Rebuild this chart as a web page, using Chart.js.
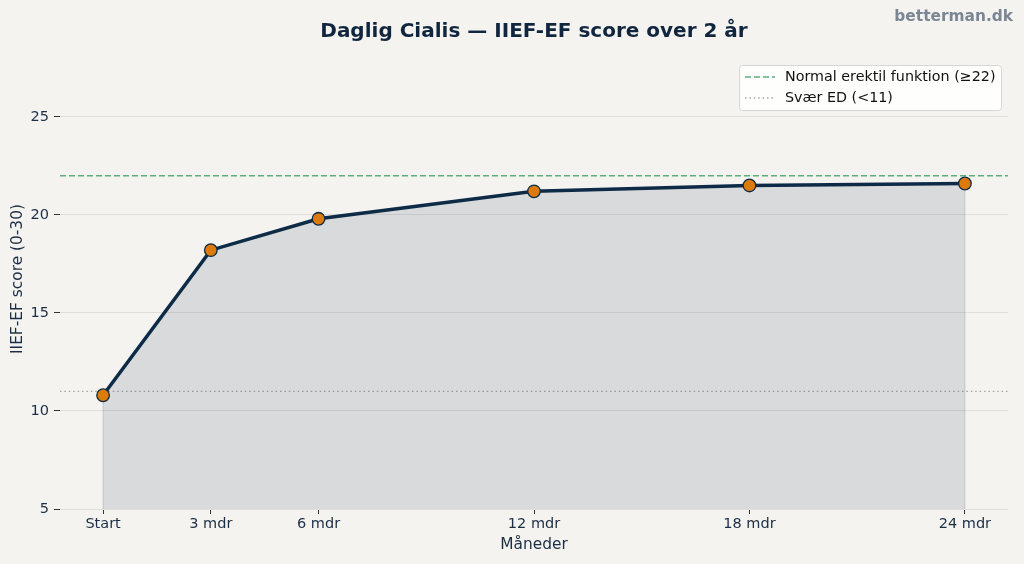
<!DOCTYPE html>
<html>
<head>
<meta charset="utf-8">
<script src="https://cdn.jsdelivr.net/npm/chart.js@4"></script>
<style>
  html, body { margin: 0; padding: 0; background: #f4f3f0; }
  canvas { display: block; }
</style>
</head>
<body>
<canvas id="iiefChart" width="1024" height="564"></canvas>
<script>
// months after start, and matching tick labels
const months = [0, 3, 6, 12, 18, 24];
const tickLabels = ['Start', '3 mdr', '6 mdr', '12 mdr', '18 mdr', '24 mdr'];
const iiefScores = [10.8, 18.2, 19.8, 21.2, 21.5, 21.6];
const yTicks = [5, 10, 15, 20, 25];
const normalLevel = 22;
const severeLevel = 11;

const navy = '#0d2a47';
const textColor = '#1c2e45';
const green = '#5cae7e';
const grey = '#a5a5a5';
const font = "'DejaVu Sans', sans-serif";

const xMin = -1.2, xMax = 25.2;

// background, title, watermark, axis titles, fill edges and legend
const decorations = {
    id: 'decorations',
    beforeDraw(chart) {
        const ctx = chart.ctx;
        ctx.save();
        ctx.fillStyle = '#f4f3f0';
        ctx.fillRect(0, 0, chart.width, chart.height);
        ctx.restore();
    },
    beforeDatasetsDraw(chart) {
        // faint edges of the filled area, like matplotlib's fill_between
        const ctx = chart.ctx;
        const xs = chart.scales.x, ys = chart.scales.y;
        ctx.save();
        ctx.strokeStyle = 'rgba(13, 42, 71, 0.10)';
        ctx.lineWidth = 1.5;
        [0, months.length - 1].forEach(i => {
            const px = xs.getPixelForValue(months[i]);
            ctx.beginPath();
            ctx.moveTo(px, ys.getPixelForValue(iiefScores[i]));
            ctx.lineTo(px, ys.getPixelForValue(ys.min));
            ctx.stroke();
        });
        ctx.restore();
    },
    afterDraw(chart) {
        const ctx = chart.ctx;
        const area = chart.chartArea;
        ctx.save();
        ctx.textBaseline = 'middle';

        ctx.fillStyle = '#10263f';
        ctx.font = 'bold 20px ' + font;
        ctx.textAlign = 'center';
        ctx.fillText('Daglig Cialis — IIEF-EF score over 2 år', 534, 32);

        ctx.fillStyle = '#7b8694';
        ctx.font = 'bold 15.4px ' + font;
        ctx.textAlign = 'right';
        ctx.fillText('betterman.dk', 1013, 17);

        ctx.fillStyle = textColor;
        ctx.font = '15.4px ' + font;
        ctx.textAlign = 'center';
        ctx.fillText('Måneder', (area.left + area.right) / 2, 545);

        ctx.translate(18, 279);
        ctx.rotate(-Math.PI / 2);
        ctx.fillText('IIEF-EF score (0-30)', 0, 0);
        ctx.setTransform(1, 0, 0, 1, 0, 0);

        // legend box
        const lx = 739, ly = 65, lw = 262, lh = 45;
        ctx.fillStyle = 'rgba(255,255,255,0.85)';
        ctx.strokeStyle = '#d6d6d6';
        ctx.lineWidth = 1;
        ctx.beginPath();
        ctx.roundRect(lx + 0.5, ly + 0.5, lw, lh, 3);
        ctx.fill();
        ctx.stroke();

        const items = [
            { label: 'Normal erektil funktion (≥22)', color: green, dash: [6, 3], width: 1.5, y: ly + 12 },
            { label: 'Svær ED (<11)', color: grey, dash: [1.5, 2.9], width: 1.3, y: ly + 33 }
        ];
        ctx.font = '14.3px ' + font;
        ctx.textAlign = 'left';
        items.forEach(item => {
            ctx.strokeStyle = item.color;
            ctx.lineWidth = item.width;
            ctx.setLineDash(item.dash);
            ctx.beginPath();
            ctx.moveTo(lx + 6, item.y);
            ctx.lineTo(lx + 36, item.y);
            ctx.stroke();
            ctx.setLineDash([]);
            ctx.fillStyle = '#111';
            ctx.fillText(item.label, lx + 46, item.y);
        });
        ctx.restore();
    }
};

const ctx = document.getElementById('iiefChart').getContext('2d');
const iiefChart = new Chart(ctx, {
    type: 'line',
    plugins: [decorations],
    data: {
        datasets: [
            {
                label: 'IIEF-EF',
                data: months.map((m, i) => ({ x: m, y: iiefScores[i] })),
                borderColor: navy,
                borderWidth: 3.5,
                backgroundColor: 'rgba(13, 42, 71, 0.12)',
                fill: 'start',
                tension: 0,
                pointRadius: 6.3,
                pointHoverRadius: 6.3,
                pointBackgroundColor: '#dc7a0c',
                pointBorderColor: navy,
                pointBorderWidth: 1.3,
                order: 1
            },
            {
                label: 'Normal erektil funktion (≥22)',
                data: [{ x: xMin, y: normalLevel }, { x: xMax, y: normalLevel }],
                borderColor: green,
                borderWidth: 1.5,
                borderDash: [6, 3],
                pointRadius: 0,
                fill: false,
                order: 2
            },
            {
                label: 'Svær ED (<11)',
                data: [{ x: xMin, y: severeLevel }, { x: xMax, y: severeLevel }],
                borderColor: grey,
                borderWidth: 1.3,
                borderDash: [1.5, 2.9],
                pointRadius: 0,
                fill: false,
                order: 3
            }
        ]
    },
    options: {
        responsive: false,
        animation: false,
        events: [],
        layout: {
            padding: { top: 58, right: 16, left: 0, bottom: 0 }
        },
        plugins: {
            legend: { display: false },
            tooltip: { enabled: false },
            title: { display: false }
        },
        scales: {
            x: {
                type: 'linear',
                min: xMin,
                max: xMax,
                afterBuildTicks: axis => {
                    axis.ticks = months.map(v => ({ value: v }));
                },
                afterFit: axis => { axis.height = 55; },
                ticks: {
                    color: textColor,
                    font: { family: font, size: 14.5 },
                    padding: 2,
                    maxRotation: 0,
                    callback: value => tickLabels[months.indexOf(value)]
                },
                grid: {
                    drawOnChartArea: false,
                    drawTicks: true,
                    tickLength: 5,
                    tickColor: '#333'
                },
                border: { display: false }
            },
            y: {
                min: 5,
                max: 28,
                afterBuildTicks: axis => {
                    axis.ticks = yTicks.map(v => ({ value: v }));
                },
                afterFit: axis => { axis.width = 60; },
                ticks: {
                    color: textColor,
                    font: { family: font, size: 14.5 },
                    padding: 5
                },
                grid: {
                    color: '#e0dfdb',
                    lineWidth: 1,
                    drawTicks: true,
                    tickLength: 6,
                    tickColor: '#333'
                },
                border: { display: false }
            }
        }
    }
});
</script>
</body>
</html>
